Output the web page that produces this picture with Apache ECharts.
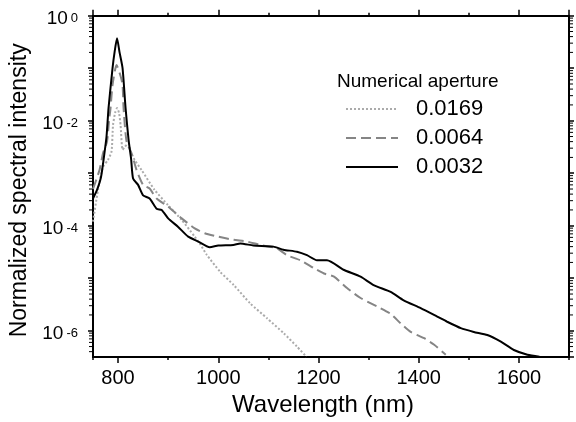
<!DOCTYPE html>
<html><head><meta charset="utf-8">
<script src="https://cdn.jsdelivr.net/npm/echarts@6/dist/echarts.min.js"></script>
<style>html,body{margin:0;padding:0;background:#fff}#c{width:576px;height:422px}</style>
</head><body><div id="c"></div>
<script>
const FONT = '"Liberation Sans", Arial, Helvetica, sans-serif';
const legendTitle = 'Numerical aperture';
const xAxisTitle = 'Wavelength (nm)';
const yAxisTitle = 'Normalized spectral intensity';
const seriesNames = ['0.0169', '0.0064', '0.0032'];

// NA = 0.0169 (dotted)
const wl0169 = [750, 760, 770, 780, 787, 790, 794, 798, 802, 805, 809, 814, 820, 826, 833, 847, 873, 900, 927, 953, 965, 977, 1004, 1031, 1064, 1097, 1131, 1157, 1176];
const int0169 = [1.2e-4, 4.8e-4, 1.32e-3, 1.8e-3, 2.6e-3, 8.3e-3, 1.4e-2, 1.74e-2, 1.4e-2, 8.3e-3, 2.8e-3, 3.2e-3, 3.7e-3, 2.5e-3, 1.8e-3, 1.15e-3, 4.8e-4, 2.45e-4, 1.29e-4, 6.2e-5, 4.3e-5, 2.8e-5, 1.32e-5, 7.4e-6, 3.3e-6, 1.74e-6, 8.9e-7, 5.0e-7, 3.2e-7];

// NA = 0.0064 (dashed)
const wl0064 = [750, 763, 770, 778, 782, 785, 789, 797, 805, 809, 811, 817, 827, 837, 850, 863, 877, 900, 927, 953, 973, 1000, 1030, 1057, 1084, 1117, 1137, 1164, 1191, 1211, 1231, 1257, 1284, 1317, 1344, 1364, 1384, 1411, 1431, 1454];
const int0064 = [5.0e-4, 1.15e-3, 2.4e-3, 4.0e-3, 1.0e-2, 1.74e-2, 4.8e-2, 0.115, 0.071, 4.8e-2, 1.74e-2, 4.0e-3, 2.4e-3, 1.15e-3, 6.0e-4, 5.1e-4, 3.3e-4, 2.3e-4, 1.38e-4, 8.9e-5, 7.2e-5, 6.2e-5, 5.4e-5, 5.0e-5, 4.3e-5, 3.7e-5, 2.75e-5, 2.2e-5, 1.55e-5, 1.23e-5, 1.07e-5, 6.5e-6, 4.2e-6, 2.9e-6, 2.1e-6, 1.38e-6, 9.5e-7, 7.2e-7, 5.4e-7, 3.5e-7];

// NA = 0.0032 (solid)
const wl0032 = [750, 758, 766, 772, 777, 781, 789, 793, 798, 803, 809, 815, 821, 826, 830, 840, 850, 863, 877, 887, 900, 920, 940, 960, 983, 1000, 1030, 1044, 1070, 1110, 1130, 1157, 1177, 1197, 1217, 1250, 1284, 1310, 1344, 1370, 1404, 1437, 1457, 1484, 1510, 1537, 1564, 1590, 1617, 1641];
const int0032 = [3.3e-4, 4.8e-4, 8.5e-4, 2.1e-3, 5.0e-3, 1.74e-2, 0.10, 0.20, 0.37, 0.20, 0.10, 1.74e-2, 4.3e-3, 1.9e-3, 7.9e-4, 6.0e-4, 3.8e-4, 3.3e-4, 2.1e-4, 2.0e-4, 1.38e-4, 9.5e-5, 6.2e-5, 5.0e-5, 3.9e-5, 4.2e-5, 4.3e-5, 4.6e-5, 4.2e-5, 4.0e-5, 3.5e-5, 3.2e-5, 2.75e-5, 2.2e-5, 2.2e-5, 1.45e-5, 1.07e-5, 7.4e-6, 5.5e-6, 3.8e-6, 2.7e-6, 1.86e-6, 1.48e-6, 1.12e-6, 9.5e-7, 8.3e-7, 6.2e-7, 4.3e-7, 3.5e-7, 3.2e-7];

// log-axis minor tick positions: multipliers 2..9 in each decade
const minorMultipliers = [2, 3, 4, 5, 6, 7, 8, 9];
const minorDecades = [-7, -6, -5, -4, -3, -2, -1];

const xMin = 750, xMax = 1700;
const yMin = Math.pow(10, -6.5), yMax = 1;

function zip(xs, ys) { return xs.map((x, i) => [x, ys[i]]); }

const minorVals = [];
minorDecades.forEach(d => minorMultipliers.forEach(m => {
  const v = m * Math.pow(10, d);
  if (v > yMin && v < yMax) minorVals.push([xMin, v]);
}));

const chart = echarts.init(document.getElementById('c'), null, {renderer: 'canvas'});

const axisLineStyle = {show: true, onZero: false, lineStyle: {color: '#000', width: 2}};
function xAx(pos, split, tickLen, labels) {
  return {
    type: 'value', position: pos, min: xMin, max: xMax, splitNumber: split, offset: 0,
    axisLine: axisLineStyle,
    axisTick: {show: true, inside: false, length: tickLen, lineStyle: {color: '#000', width: 1.5}},
    axisLabel: labels ? {show: true, margin: 11, fontSize: 20, fontFamily: FONT, color: '#000', showMinLabel: false, showMaxLabel: false, formatter: v => String(v)} : {show: false},
    splitLine: {show: false}
  };
}
function yLabelFmt(v) {
  const l = Math.log10(v);
  const e = Math.round(l);
  if (Math.abs(l - e) > 1e-6 || e % 2 !== 0) return '';
  return '{b|10}{e|' + (e === 0 ? '0' : String(e)) + '}';
}
function yAx(pos, labels) {
  return {
    type: 'log', logBase: 10, position: pos, min: yMin, max: yMax,
    axisLine: axisLineStyle,
    axisTick: {show: true, inside: false, length: 5, lineStyle: {color: '#000', width: 1.5}},
    minorTick: {show: false},
    axisLabel: labels ? {
      show: true, margin: 15, showMinLabel: false, formatter: yLabelFmt,
      rich: {
        b: {fontSize: 19, fontFamily: FONT, color: '#000', lineHeight: 19, padding: [7, 0, 0, 0]},
        e: {fontSize: 13, fontFamily: FONT, color: '#000', lineHeight: 13, verticalAlign: 'top', padding: [6, 0, 0, 3]}
      }
    } : {show: false},
    splitLine: {show: false},
    minorSplitLine: {show: false}
  };
}

const y0 = yAx('left', true);
y0.name = yAxisTitle;
y0.nameLocation = 'middle';
y0.nameGap = 59;
y0.nameTextStyle = {fontSize: 23, fontFamily: FONT, color: '#000', padding: [0, 8, 0, 0]};

const x0 = xAx('bottom', 5, 6, true);
x0.name = xAxisTitle;
x0.nameLocation = 'middle';
x0.nameGap = 36;
x0.nameTextStyle = {fontSize: 24, fontFamily: FONT, color: '#000', padding: [0, 16, 0, 0]};

const styles = [
  {color: '#ababab', type: [2, 2]},
  {color: '#858585', type: [10, 5]},
  {color: '#000000', type: 'solid'}
];
const xs = [wl0169, wl0064, wl0032];
const ys = [int0169, int0064, int0032];

const lineSeries = seriesNames.map((n, i) => ({
  name: n, type: 'line', xAxisIndex: 0, yAxisIndex: 0,
  data: zip(xs[i], ys[i]),
  symbol: 'none', showSymbol: false, smooth: 0.2, clip: true,
  lineStyle: {color: styles[i].color, width: 2, type: styles[i].type},
  itemStyle: {color: styles[i].color}
}));

const minorTickSeries = {
  type: 'custom', name: 'minorTicks', xAxisIndex: 0, yAxisIndex: 0, clip: false, silent: true,
  data: minorVals,
  renderItem: function (params, api) {
    const v = api.value(1);
    const pl = api.coord([xMin, v]);
    const pr = api.coord([xMax, v]);
    const st = {stroke: '#000', lineWidth: 1};
    return {
      type: 'group',
      children: [
        {type: 'line', shape: {x1: pl[0] - 4, y1: pl[1], x2: pl[0], y2: pl[1]}, style: st},
        {type: 'line', shape: {x1: pr[0], y1: pr[1], x2: pr[0] + 4, y2: pr[1]}, style: st}
      ]
    };
  }
};

chart.setOption({
  animation: false,
  backgroundColor: '#fff',
  textStyle: {fontFamily: FONT},
  grid: {left: 93, right: 7, top: 15.7, bottom: 65, containLabel: false},
  title: {text: legendTitle, left: 337, top: 72, textStyle: {fontSize: 19, fontWeight: 'normal', fontFamily: FONT, color: '#000'}, padding: 0},
  legend: {
    orient: 'vertical', left: 345, top: 98, itemWidth: 52, itemHeight: 14, itemGap: 7, padding: 0,
    itemStyle: {opacity: 0},
    textStyle: {fontSize: 22, fontFamily: FONT, color: '#000', padding: [0, 0, 0, 13]},
    data: seriesNames
  },
  xAxis: [x0, xAx('bottom', 10, 3, false), xAx('top', 5, 6, false), xAx('top', 10, 3, false)],
  yAxis: [y0, yAx('right', false)],
  series: lineSeries.concat([minorTickSeries])
});
</script>
</body></html>
